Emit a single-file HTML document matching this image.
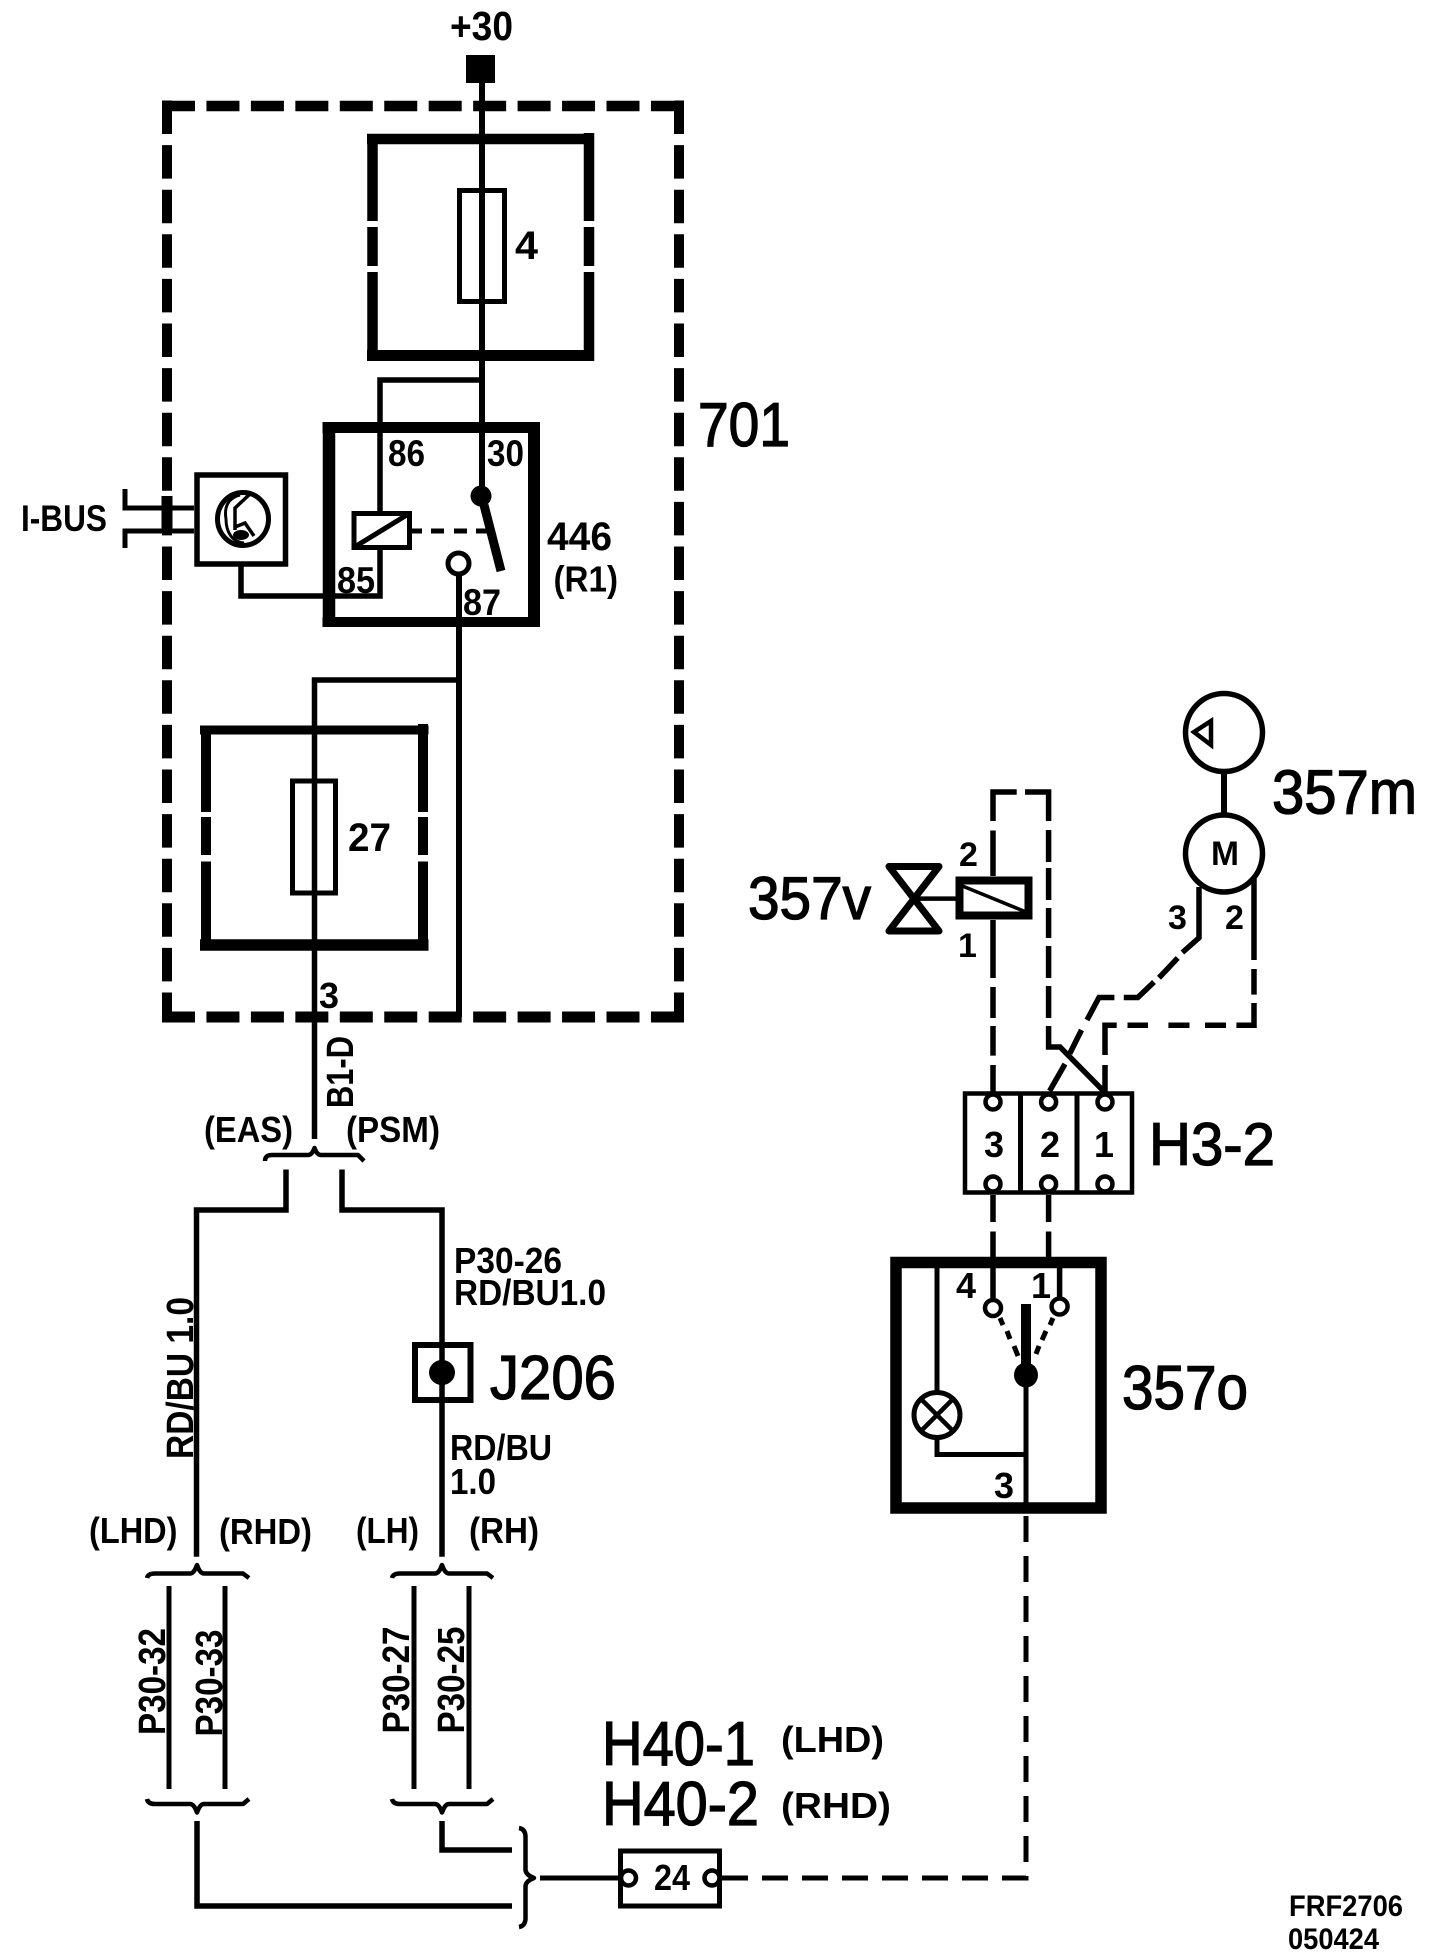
<!DOCTYPE html>
<html><head><meta charset="utf-8"><style>
html,body{margin:0;padding:0;background:#fff;width:1456px;height:1960px;overflow:hidden}
svg{display:block}
text{font-family:"Liberation Sans",sans-serif;fill:#000;stroke:none}
.b text{font-weight:bold}
.r text{stroke:#000;stroke-width:1.3px}
.w{fill:none;stroke:#000;stroke-width:5.5}
.f{fill:#fff;stroke:#000}
</style></head><body>
<svg width="1456" height="1960" viewBox="0 0 1456 1960" xmlns="http://www.w3.org/2000/svg">
<rect width="1456" height="1960" fill="#fff"/>

<!-- dashed outer box 701 -->
<g fill="none" stroke="#000">
<path d="M162,106H684" stroke-width="10.5" stroke-dasharray="33 11.45"/>
<path d="M162,1017H684" stroke-width="11" stroke-dasharray="33 11.45"/>
<path d="M167,100.5V1022" stroke-width="10" stroke-dasharray="33.5 11.1"/>
<path d="M679,100.5V1022" stroke-width="10" stroke-dasharray="33.5 11.1"/>
</g>

<!-- +30 -->
<rect x="466" y="55" width="29" height="28" fill="#000"/>
<path class="w" d="M482,83V496" style="stroke-width:6"/>

<!-- fuse box 4 -->
<g fill="none" stroke="#000" stroke-width="10.5">
<path d="M367,139H594" stroke-width="10.5"/>
<path d="M367,355.5H594" stroke-width="11"/>
<path d="M372.5,134V221M372.5,227V266M372.5,272V361"/>
<path d="M589,133V221M589,227V266M589,272V361"/>
</g>
<rect x="459.5" y="190.5" width="45" height="111" fill="none" stroke="#000" stroke-width="5"/>

<!-- branch to relay -->
<path class="w" d="M482,380H380V511"/>

<!-- relay 446 -->
<g fill="none" stroke="#000">
<path d="M322.5,427.5H540" stroke-width="11"/>
<path d="M322.5,622H540" stroke-width="10"/>
<path d="M329,422V627" stroke-width="12.5"/>
<path d="M534,422V627" stroke-width="12"/>
</g>
<path fill="none" stroke="#000" stroke-width="5" d="M357,545.5L410,513"/>
<rect x="354" y="513.5" width="55.5" height="34" fill="none" stroke="#000" stroke-width="5"/>
<path class="w" d="M380,550V596H241V566"/>
<path fill="none" stroke="#000" stroke-width="5" d="M411,531H422M431,531H444M454,531H467M476,531H489"/>
<ellipse cx="481" cy="496" rx="10.5" ry="10.5" fill="#000"/>
<path fill="none" stroke="#000" stroke-width="9" d="M484,505L501,571"/>
<path fill="none" stroke="#000" stroke-width="6" d="M459,575V1017"/>
<circle cx="458.5" cy="563.5" r="10.5" fill="#fff" stroke="#000" stroke-width="5"/>

<!-- I-BUS module -->
<rect x="197" y="475" width="88.5" height="89" fill="#fff" stroke="#000" stroke-width="5.5"/>
<path fill="none" stroke="#000" stroke-width="5" d="M125,489V508H194M125,548V531H194"/>
<rect x="161.5" y="496" width="11" height="37" fill="#000"/>
<ellipse cx="243" cy="519" rx="25.5" ry="26.5" fill="none" stroke="#000" stroke-width="5"/>
<path fill="none" stroke="#000" stroke-width="3" d="M226,519C224,507 228,498 240,495M226,519C226,532 232,542 244,543"/>
<path fill="none" stroke="#000" stroke-width="3.5" d="M235,530V508L250,494M235,527L245,523L254,536"/>
<ellipse cx="241" cy="535" rx="8" ry="5" fill="#000"/>

<!-- connection to fuse 27 -->
<path class="w" d="M459,680H314.5V1139"/>

<!-- fuse box 27 -->
<g fill="none" stroke="#000">
<path d="M200,730H428.5" stroke-width="9"/>
<path d="M200,945H428.5" stroke-width="11.5"/>
<path d="M206,725.5V812M206,817V855M206,861.5V950" stroke-width="10"/>
<path d="M423,724V812M423,817V855M423,861.5V950" stroke-width="10"/>
</g>
<rect x="292.5" y="781" width="43" height="112" fill="none" stroke="#000" stroke-width="5"/>

<!-- brace EAS/PSM -->
<path fill="none" stroke="#000" stroke-width="4.5" stroke-linejoin="round" d="M265,1161Q265,1155 272,1155L308,1155Q312,1155 314.5,1148Q317,1155 321,1155L358,1155L364,1161"/>
<path class="w" d="M286,1169.5V1210H196.5V1556.7"/>
<path class="w" d="M342,1169.5V1210H442V1556.7"/>

<!-- J206 -->
<rect x="415" y="1345" width="55.5" height="55" fill="none" stroke="#000" stroke-width="6"/>
<ellipse cx="442" cy="1372.5" rx="13" ry="12.6" fill="#000"/>

<!-- braces lower -->
<g fill="none" stroke="#000" stroke-width="4.5" stroke-linejoin="round">
<path d="M147,1578Q148,1573.5 155,1573.5L190,1573.5Q194,1573.5 197,1565Q200,1573.5 204,1573.5L243,1573.5L249,1578"/>
<path d="M392,1578Q393,1573.5 400,1573.5L435,1573.5Q439,1573.5 442,1565Q445,1573.5 449,1573.5L487,1573.5L493,1578"/>
<path d="M147,1799Q148,1804 155,1804L190,1804Q194,1804 197,1812.5Q200,1804 204,1804L243,1804L249,1799"/>
<path d="M392,1799Q393,1804 400,1804L435,1804Q439,1804 442,1812.5Q445,1804 449,1804L487,1804L493,1799"/>
</g>
<path fill="none" stroke="#000" stroke-width="5" d="M169,1586V1789M225,1586V1789M414,1586V1789M469,1586V1789"/>
<path class="w" d="M197,1821V1906H512"/>
<path class="w" d="M442,1821V1850H512"/>
<path fill="none" stroke="#000" stroke-width="4.5" stroke-linejoin="round" d="M519,1828Q525,1829 525.5,1836V1870Q526,1875 534,1878Q526,1881 525.5,1886V1919Q525,1926 519,1927"/>
<path fill="none" stroke="#000" stroke-width="5" d="M540,1878H620"/>

<!-- box 24 -->
<rect x="620.5" y="1851" width="99" height="55" fill="none" stroke="#000" stroke-width="5"/>
<circle cx="628.5" cy="1878" r="7.5" fill="#fff" stroke="#000" stroke-width="4.5"/>
<circle cx="712" cy="1878" r="7.5" fill="#fff" stroke="#000" stroke-width="4.5"/>

<!-- dashed to 357o -->
<path fill="none" stroke="#000" stroke-width="5" stroke-dasharray="26 14" d="M722,1878H1026V1513"/>

<!-- 357o -->
<rect x="896" y="1262.5" width="205" height="245.5" fill="none" stroke="#000" stroke-width="11.5"/>
<path fill="none" stroke="#000" stroke-width="5" d="M937,1268V1391M937,1439V1454.5H1026M1026,1385V1513"/>
<ellipse cx="937" cy="1415" rx="23" ry="22.5" fill="#fff" stroke="#000" stroke-width="5"/>
<path fill="none" stroke="#000" stroke-width="4.5" d="M921,1399L953,1431M953,1399L921,1431"/>
<path fill="none" stroke="#000" stroke-width="10" d="M1026,1304V1375"/>
<ellipse cx="1026" cy="1375" rx="12" ry="12.5" fill="#000"/>
<path class="w" d="M993,1268V1298M1059.6,1268V1297"/>
<circle cx="993" cy="1308" r="8" fill="#fff" stroke="#000" stroke-width="4.5"/>
<circle cx="1059.6" cy="1306.5" r="8" fill="#fff" stroke="#000" stroke-width="4.5"/>
<path fill="none" stroke="#000" stroke-width="5" d="M1000,1318L1003,1325M1007,1331L1010,1339M1014,1346L1018,1356M1053,1318L1050,1325M1046,1331L1042,1340M1039,1346L1036,1354"/>

<!-- H3-2 -->
<rect x="965" y="1093.5" width="167" height="99" fill="#fff" stroke="#000" stroke-width="4.5"/>
<path fill="none" stroke="#000" stroke-width="5" d="M1020.5,1093V1192M1077,1093V1192"/>

<!-- wires between H3-2 and 357o -->
<path class="w" d="M993,1195V1222M993,1231.5V1257M1048.6,1195V1222M1048.6,1231.5V1257"/>

<!-- valve 357v -->
<path fill="none" stroke="#000" stroke-width="7" stroke-linejoin="round" d="M889,866.5H939L889,931H939Z"/>
<path fill="none" stroke="#000" stroke-width="4.5" d="M914,898.6H956"/>
<rect x="959.5" y="880.5" width="69" height="35" fill="#fff" stroke="#000" stroke-width="8"/>
<path fill="none" stroke="#000" stroke-width="3.5" d="M960,885L1026,912"/>

<!-- wires upper right -->
<path class="w" d="M993,876V830.5M993,821V792H1016.7M1025,792H1048.6V821M1048.6,830V862M1048.6,868V900M1048.6,908V938M1048.6,946V978M1048.6,986V1018M1048.6,1026V1047H1060L1104,1091.5V1096"/>
<path class="w" d="M993,920V978M993,987V1018M993,1026V1055.6M993,1065V1094"/>
<path class="w" d="M1199,887V937.8L1182.4,952.5M1177.7,958L1159,977.8M1154,982L1137.8,997.5H1123.8M1114.4,997.5H1099L1087,1020M1081.5,1030L1069.8,1053.5M1065,1064L1049.6,1091"/>
<path class="w" d="M1254,879V960M1254,969V994.6M1254,1003V1025.3H1236.4M1226,1025.3H1205M1189.5,1025.3H1168.4M1148,1025.3H1127.5M1116.7,1025.3H1105V1055M1105,1065V1094"/>

<!-- contacts on H3-2 -->
<g fill="#fff" stroke="#000" stroke-width="4.5">
<circle cx="993" cy="1102" r="7.5"/><circle cx="1048.6" cy="1102" r="7.5"/><circle cx="1105" cy="1102" r="7.5"/>
<circle cx="993" cy="1184" r="7.5"/><circle cx="1048.6" cy="1184" r="7.5"/><circle cx="1105" cy="1184" r="7.5"/>
</g>

<!-- motor 357m -->
<ellipse cx="1224" cy="732.5" rx="38.5" ry="39" fill="#fff" stroke="#000" stroke-width="5.5"/>
<path fill="none" stroke="#000" stroke-width="4.5" d="M1194,732L1211,721V745Z"/>
<path fill="none" stroke="#000" stroke-width="6" d="M1224,772V814"/>
<ellipse cx="1224" cy="853.5" rx="38.5" ry="38.5" fill="#fff" stroke="#000" stroke-width="5.5"/>

<!-- labels -->
<g class="b">
<text x="450" y="40" font-size="41" textLength="63" lengthAdjust="spacingAndGlyphs">+30</text>
<text x="515" y="259" font-size="40" textLength="23" lengthAdjust="spacingAndGlyphs">4</text>
<text x="388" y="466" font-size="37" textLength="37" lengthAdjust="spacingAndGlyphs">86</text>
<text x="487" y="466" font-size="37" textLength="37" lengthAdjust="spacingAndGlyphs">30</text>
<text x="337" y="593" font-size="37" textLength="38" lengthAdjust="spacingAndGlyphs">85</text>
<text x="463" y="615" font-size="37" textLength="38" lengthAdjust="spacingAndGlyphs">87</text>
<text x="547" y="550" font-size="40" textLength="65" lengthAdjust="spacingAndGlyphs">446</text>
<text x="553.5" y="591.5" font-size="36" textLength="64.5" lengthAdjust="spacingAndGlyphs">(R1)</text>
<text x="21" y="531" font-size="37" textLength="86" lengthAdjust="spacingAndGlyphs">I-BUS</text>
<text x="348" y="851" font-size="40" textLength="43" lengthAdjust="spacingAndGlyphs">27</text>
<text x="319" y="1008" font-size="36">3</text>
<text transform="translate(353,1108) rotate(-90)" font-size="38" textLength="72" lengthAdjust="spacingAndGlyphs">B1-D</text>
<text x="204" y="1142" font-size="36" textLength="89" lengthAdjust="spacingAndGlyphs">(EAS)</text>
<text x="346" y="1142" font-size="36" textLength="94" lengthAdjust="spacingAndGlyphs">(PSM)</text>
<text x="454" y="1273" font-size="36" textLength="108" lengthAdjust="spacingAndGlyphs">P30-26</text>
<text x="454" y="1305" font-size="36" textLength="152" lengthAdjust="spacingAndGlyphs">RD/BU1.0</text>
<text transform="translate(193,1459) rotate(-90)" font-size="38" textLength="162" lengthAdjust="spacingAndGlyphs">RD/BU 1.0</text>
<text x="450" y="1460" font-size="36" textLength="102" lengthAdjust="spacingAndGlyphs">RD/BU</text>
<text x="450" y="1494" font-size="36" textLength="46" lengthAdjust="spacingAndGlyphs">1.0</text>
<text x="89" y="1543" font-size="36" textLength="88.5" lengthAdjust="spacingAndGlyphs">(LHD)</text>
<text x="219" y="1544" font-size="36" textLength="93" lengthAdjust="spacingAndGlyphs">(RHD)</text>
<text x="356" y="1543" font-size="36" textLength="63" lengthAdjust="spacingAndGlyphs">(LH)</text>
<text x="469" y="1543" font-size="36" textLength="70" lengthAdjust="spacingAndGlyphs">(RH)</text>
<text transform="translate(165,1735) rotate(-90)" font-size="38" textLength="107" lengthAdjust="spacingAndGlyphs">P30-32</text>
<text transform="translate(222,1736.5) rotate(-90)" font-size="38" textLength="107" lengthAdjust="spacingAndGlyphs">P30-33</text>
<text transform="translate(409,1733.5) rotate(-90)" font-size="38" textLength="107" lengthAdjust="spacingAndGlyphs">P30-27</text>
<text transform="translate(464,1733.5) rotate(-90)" font-size="38" textLength="107" lengthAdjust="spacingAndGlyphs">P30-25</text>
<text x="781" y="1752" font-size="36" textLength="103" lengthAdjust="spacingAndGlyphs">(LHD)</text>
<text x="781" y="1818" font-size="36" textLength="110" lengthAdjust="spacingAndGlyphs">(RHD)</text>
<text x="654" y="1890" font-size="36" textLength="36" lengthAdjust="spacingAndGlyphs">24</text>
<text x="956" y="1298" font-size="36">4</text>
<text x="1031" y="1298" font-size="36">1</text>
<text x="994" y="1498" font-size="36">3</text>
<text x="959" y="866" font-size="34">2</text>
<text x="958" y="957" font-size="34">1</text>
<text x="1168" y="929" font-size="34">3</text>
<text x="1225" y="929" font-size="34">2</text>
<text x="1211" y="865" font-size="34" textLength="28" lengthAdjust="spacingAndGlyphs">M</text>
<text x="984" y="1157" font-size="36">3</text>
<text x="1040" y="1157" font-size="36">2</text>
<text x="1094" y="1157" font-size="36">1</text>
<text x="1289" y="1916" font-size="30" textLength="114" lengthAdjust="spacingAndGlyphs">FRF2706</text>
<text x="1288" y="1949" font-size="30" textLength="91" lengthAdjust="spacingAndGlyphs">050424</text>
</g>
<g class="r">
<text x="698" y="446" font-size="62" textLength="92" lengthAdjust="spacingAndGlyphs">701</text>
<text x="490" y="1399" font-size="62" textLength="126" lengthAdjust="spacingAndGlyphs">J206</text>
<text x="602" y="1765" font-size="62" textLength="153" lengthAdjust="spacingAndGlyphs">H40-1</text>
<text x="602" y="1825" font-size="62" textLength="157" lengthAdjust="spacingAndGlyphs">H40-2</text>
<text x="1122" y="1409" font-size="62" textLength="126" lengthAdjust="spacingAndGlyphs">357o</text>
<text x="748" y="919" font-size="60" textLength="123" lengthAdjust="spacingAndGlyphs">357v</text>
<text x="1149" y="1165" font-size="60" textLength="126" lengthAdjust="spacingAndGlyphs">H3-2</text>
<text x="1272" y="813.5" font-size="62" textLength="145" lengthAdjust="spacingAndGlyphs">357m</text>
</g>
</svg>
</body></html>
